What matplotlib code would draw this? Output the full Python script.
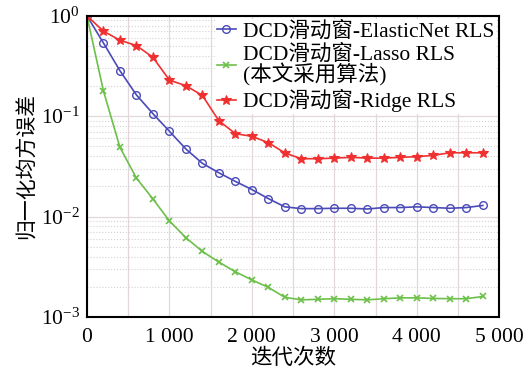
import numpy as np
import matplotlib
matplotlib.use('Agg')
import matplotlib.pyplot as plt
from matplotlib.ticker import FixedLocator, FuncFormatter, LogLocator, NullFormatter

plt.rcParams['font.family'] = ['Liberation Serif', 'Noto Sans CJK SC']
plt.rcParams['mathtext.fontset'] = 'stix'

# iterations (every 200)
iters = list(range(0, 5000, 200))

elastic = [1.0, 0.537, 0.284, 0.163, 0.106, 0.0708, 0.0471, 0.0339, 0.0273, 0.0224,
           0.0186, 0.0151, 0.0125, 0.0120, 0.0120, 0.0121, 0.0121, 0.0119, 0.0123,
           0.0123, 0.0125, 0.0123, 0.0121, 0.0123, 0.0129]
lasso = [1.0, 0.179, 0.049, 0.0242, 0.0150, 0.00906, 0.00616, 0.0045, 0.00352, 0.00282,
         0.00234, 0.00197, 0.00157, 0.00148, 0.00150, 0.00152, 0.00150, 0.00148, 0.00152,
         0.00155, 0.00155, 0.00153, 0.00152, 0.00152, 0.00160]
ridge = [1.0, 0.703, 0.571, 0.505, 0.386, 0.229, 0.201, 0.161, 0.090, 0.067,
         0.063, 0.0545, 0.043, 0.0377, 0.0377, 0.0382, 0.0389, 0.0382, 0.0382,
         0.0389, 0.0395, 0.0407, 0.0432, 0.0432, 0.0432]

labels = ['DCD滑动窗-ElasticNet RLS', 'DCD滑动窗-Lasso RLS\n(本文采用算法)', 'DCD滑动窗-Ridge RLS']
x_ticks = [0, 1000, 2000, 3000, 4000, 5000]

fig = plt.figure(figsize=(5.3, 3.76), dpi=100)
ax = fig.add_axes([0.164, 0.157, 0.778, 0.801])

ax.plot(iters, elastic, color='#4a4ab8', marker='o', markersize=5.5, markerfacecolor='none',
        markeredgewidth=1.0, linewidth=1.2, label=labels[0])
ax.plot(iters, lasso, color='#6cc04a', marker='x', markersize=5, markeredgewidth=1.2,
        linewidth=1.2, label=labels[1])
ax.plot(iters, ridge, color='#f03030', marker='*', markersize=7, markeredgewidth=0.8,
        linewidth=1.2, label=labels[2])

ax.set_yscale('log')
ax.set_ylim(1e-3, 1)
ax.set_xlim(0, 5000)
ax.xaxis.set_major_locator(FixedLocator(x_ticks))
ax.xaxis.set_minor_locator(FixedLocator(list(range(500, 5000, 1000))))
ax.xaxis.set_major_formatter(FuncFormatter(lambda v, p: '{:,}'.format(int(v)).replace(',', ' ')))
ax.yaxis.set_major_locator(LogLocator(base=10, numticks=10))
ax.yaxis.set_minor_locator(LogLocator(base=10, subs=np.arange(2, 10), numticks=10))
ax.yaxis.set_minor_formatter(NullFormatter())

ax.grid(True, which='major', color='#e2d8dc', linewidth=0.9, linestyle='-')
ax.grid(True, which='minor', axis='x', color='#e2d8dc', linewidth=0.9, linestyle='-')
ax.grid(True, which='minor', axis='y', color='#d8d0d4', linewidth=0.8, linestyle=':')

ax.tick_params(which='both', length=0, labelsize=15.5)
ax.tick_params(axis='x', pad=8)
ax.tick_params(axis='y', pad=5)
for s in ax.spines.values():
    s.set_linewidth(1.5)

ax.set_xlabel('迭代次数', fontsize=15.5, labelpad=1)
ax.set_ylabel('归一化均方误差', fontsize=15)
ax.yaxis.set_label_coords(-0.12, 0.5)

leg = ax.legend(loc='upper right', fontsize=15.5, frameon=True, framealpha=1, edgecolor='none',
                handlelength=0.9, handletextpad=0.3, borderpad=0.1, labelspacing=0.12,
                borderaxespad=0.15, fancybox=False)
for t in leg.get_texts():
    t.set_linespacing(0.95)

fig.savefig('out.png', dpi=100)
